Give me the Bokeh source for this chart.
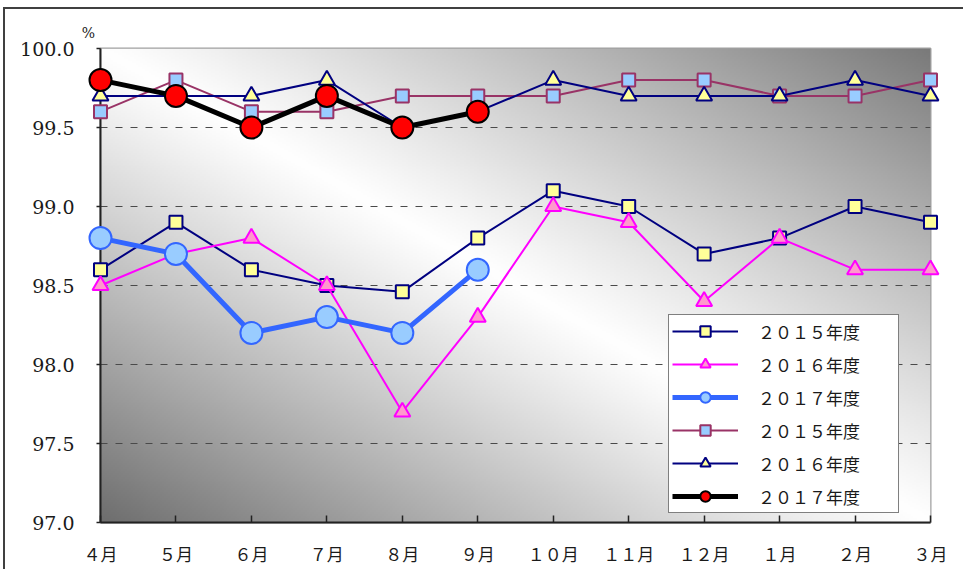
import numpy as np
from bokeh.plotting import figure
from bokeh.models import (Legend, LegendItem, FixedTicker)
from bokeh.core.properties import value
from bokeh.embed import file_html
from bokeh.resources import INLINE

# ---------------- data ----------------
months = ["４月", "５月", "６月", "７月", "８月", "９月",
          "１０月", "１１月", "１２月", "１月", "２月", "３月"]
y_ticks = [97.0, 97.5, 98.0, 98.5, 99.0, 99.5, 100.0]
y_tick_labels = ["97.0", "97.5", "98.0", "98.5", "99.0", "99.5", "100.0"]

# lower group
low_2015 = [98.6, 98.9, 98.6, 98.5, 98.46, 98.8, 99.1, 99.0, 98.7, 98.8, 99.0, 98.9]
low_2016 = [98.5, 98.7, 98.8, 98.5, 97.7, 98.3, 99.0, 98.9, 98.4, 98.8, 98.6, 98.6]
low_2017 = [98.8, 98.7, 98.2, 98.3, 98.2, 98.6]
# upper group
up_2015 = [99.6, 99.8, 99.6, 99.6, 99.7, 99.7, 99.7, 99.8, 99.8, 99.7, 99.7, 99.8]
up_2016 = [99.7, 99.7, 99.7, 99.8, 99.5, 99.6, 99.8, 99.7, 99.7, 99.7, 99.8, 99.7]
up_2017 = [99.8, 99.7, 99.5, 99.7, 99.5, 99.6]

labels = ["２０１５年度", "２０１６年度", "２０１７年度",
          "２０１５年度", "２０１６年度", "２０１７年度"]
unit_label = "%"

SERIF = "DejaVu Serif"
JP = "Noto Sans CJK JP"

# ---------------- figure ----------------
W, H = 960, 562
p = figure(width=W, height=H, output_backend="svg", toolbar_location=None,
           x_range=(0, len(months) - 1), y_range=(97.0, 100.0),
           min_border_left=95, min_border_right=35,
           min_border_top=39, min_border_bottom=49)
p.styles = {"margin-left": "3px", "margin-top": "7px",
            "border-left": "2px solid #404040",
            "border-top": "2px solid #404040"}
p.background_fill_color = "white"
p.border_fill_color = "white"
p.outline_line_color = "#a0a0a0"
p.outline_line_width = 2

# gradient background (style only)
GH, GW = 240, 420
u = np.linspace(0, 1, GW)[None, :]
v = np.linspace(0, 1, GH)[:, None]
s = u + v
d = np.abs(s - 1.0)
dark = np.where(s < 1.0, 110.0, 122.0)
c = 255.0 - (255.0 - dark) * d ** 1.1
c = np.clip(c, 0, 255).astype(np.uint8)
img = np.empty((GH, GW), dtype=np.uint32)
view = img.view(dtype=np.uint8).reshape((GH, GW, 4))
view[:, :, 0] = c
view[:, :, 1] = c
view[:, :, 2] = c
view[:, :, 3] = 255
p.image_rgba(image=[img], x=0, y=97.0, dw=len(months) - 1, dh=3.0, level="image")

# grid
p.xgrid.grid_line_color = None
p.ygrid.ticker = FixedTicker(ticks=y_ticks[1:-1])
p.ygrid.grid_line_color = "#4a4a4a"
p.ygrid.grid_line_dash = "7 8"
p.ygrid.grid_line_width = 1

# axes
xs = list(range(len(months)))
p.xaxis.ticker = FixedTicker(ticks=xs)
p.xaxis.major_label_overrides = {i: m for i, m in enumerate(months)}
p.yaxis.ticker = FixedTicker(ticks=y_ticks)
p.yaxis.major_label_overrides = {t: l for t, l in zip(y_ticks, y_tick_labels)}
for ax in (p.xaxis[0], p.yaxis[0]):
    ax.axis_line_color = "#222222"
    ax.axis_line_width = 2
    ax.major_tick_line_color = "#222222"
    ax.major_tick_line_width = 1.5
    ax.minor_tick_line_color = None
    ax.major_label_text_color = "#1a1a1a"
p.xaxis.major_tick_in = 7
p.xaxis.major_tick_out = 0
p.xaxis.major_label_standoff = 18
p.xaxis.major_label_text_font = JP
p.xaxis.major_label_text_font_size = "17px"
p.yaxis.major_tick_in = 0
p.yaxis.major_tick_out = 4
p.yaxis.major_label_standoff = 22
p.yaxis.major_label_text_font = SERIF
p.yaxis.major_label_text_font_size = "19px"

series = [
    (low_2015, "#000080", 2, "square", 13, "#FFFF99", "#000080"),
    (low_2016, "#FF00FF", 2, "triangle", 16, "#FF99CC", "#FF00FF"),
    (low_2017, "#3366FF", 5, "circle", 22, "#99CCFF", "#3366FF"),
    (up_2015, "#993366", 2, "square", 13, "#99CCFF", "#993366"),
    (up_2016, "#000080", 2, "triangle", 16, "#FFFF99", "#000080"),
    (up_2017, "#000000", 5, "circle", 22, "#FF0000", "#000000"),
]

items = []
for (vals, lc, lw, mk, sz, fc, mlc), lab in zip(series, labels):
    xv = xs[:len(vals)]
    lr = p.line(xv, vals, line_color=lc, line_width=lw, level="overlay")
    sr = p.scatter(xv, vals, marker=mk, size=sz, fill_color=fc,
                   line_color=mlc, line_width=2, level="overlay")
    items.append(LegendItem(label=lab, renderers=[lr, sr]))

legend = Legend(items=items, location=(568, 9))
legend.border_line_color = "#000000"
legend.border_line_width = 1
legend.background_fill_color = "white"
legend.background_fill_alpha = 1.0
legend.padding = 3
legend.spacing = 7
legend.glyph_width = 66
legend.glyph_height = 26
legend.label_height = 26
legend.label_width = 137
legend.label_standoff = 20
legend.label_text_font = JP
legend.label_text_font_size = "17px"
legend.label_text_color = "#1a1a1a"
legend.margin = 0
p.add_layout(legend)

# unit mark above the y axis
p.text(x=[-0.16], y=[100.05], text=[unit_label], text_font=value(SERIF),
       text_font_size="14px", text_align="center", text_baseline="bottom",
       text_color="#1a1a1a", level="overlay")

open("out.html", "w").write(file_html(p, INLINE))
